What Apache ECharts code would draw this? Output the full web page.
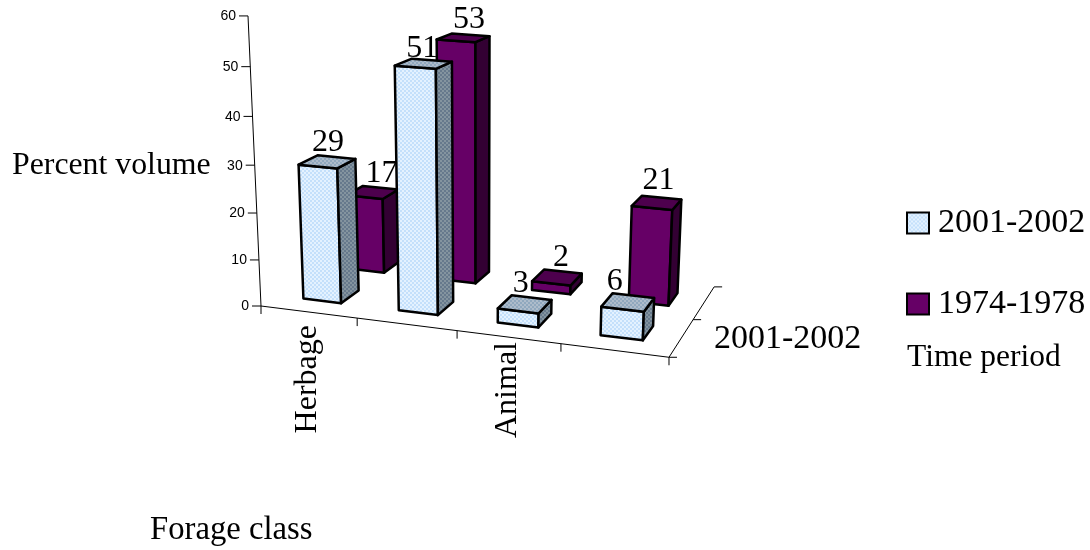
<!DOCTYPE html>
<html><head><meta charset="utf-8">
<style>html,body{margin:0;padding:0;background:#fff}#c{width:1090px;height:550px}</style>
<script src="https://cdn.jsdelivr.net/npm/echarts@6/dist/echarts.min.js"></script>
</head><body><div id="c"></div>
<script>
const categories = ['Herbage', '', 'Animal', ''];
const timePeriods = ['2001-2002', '1974-1978'];
const values2001 = [29, 51, 3, 6];
const values1974 = [17, 53, 2, 21];
const valueTicks = [0, 10, 20, 30, 40, 50, 60];

const SERIF = '"Liberation Serif","Times New Roman",serif';
const SANS = '"Liberation Sans",Arial,sans-serif';

function checker(c1, c2) {
  const cv = document.createElement('canvas');
  cv.width = 4; cv.height = 4;
  const g = cv.getContext('2d');
  g.fillStyle = c1; g.fillRect(0, 0, 4, 4);
  g.fillStyle = c2; g.fillRect(0, 0, 2, 2); g.fillRect(2, 2, 2, 2);
  return { image: cv, repeat: 'repeat' };
}
const faces = [
  { front: checker('#c4e0fb', '#e4f2ff'), side: checker('#66798c', '#84949f'), top: checker('#90a8be', '#aebccb') },
  { front: '#660066', side: '#330033', top: '#4d004d' }
];

// perspective model: vanishing points of the three box directions
const O = [261, 306], VX = [-4800, -330], VD = [1020, -190], VV = [478, 5150];
const KX = -0.0746, KD = 0.157, KV = -0.0565;
const DEPTH_MAX = 0.87;
const ROWS = [[0.14, 0.31], [0.565, 0.735]];
const ROW_SHIFT = [0.28, 0.29];

function project(params, api, x, value, d) {
  const p = api.coord([x, value]);
  const cs = params.coordSys;
  const u = (p[0] - cs.x) / cs.width, v = (cs.y + cs.height - p[1]) / cs.height;
  const w = 1 + KX * u + KD * d + KV * v;
  return [
    (O[0] + KX * VX[0] * u + KD * VD[0] * d + KV * VV[0] * v) / w,
    (O[1] + KX * VX[1] * u + KD * VD[1] * d + KV * VV[1] * v) / w
  ];
}
function poly(points, fill) {
  return { type: 'polygon', shape: { points }, style: { fill, stroke: '#000', lineWidth: 2.5, lineJoin: 'round' } };
}
function line(a, b) {
  return { type: 'line', shape: { x1: a[0], y1: a[1], x2: b[0], y2: b[1] }, style: { stroke: '#000', lineWidth: 1 } };
}
function text(str, x, y, font, align, extra) {
  return Object.assign({ type: 'text', x, y, style: { text: str, font, fill: '#000', align, verticalAlign: 'middle' } }, extra || {});
}

const labelNudge = [
  [[1, 2], [-1, 6], [-4, 0], [-13, 0]],
  [[9, 2], [6, 3], [4, 1], [2, -1]]
];

function barRenderer(row) {
  return function (params, api) {
    const cat = api.value(0), val = api.value(1);
    const x0 = cat + ROW_SHIFT[row], x1 = x0 + 0.4, d0 = ROWS[row][0], d1 = ROWS[row][1];
    const P = (x, v, d) => project(params, api, x, v, d);
    const f = faces[row];
    const children = [
      poly([P(x0, val, d0), P(x1, val, d0), P(x1, 0, d0), P(x0, 0, d0)], f.front),
      poly([P(x1, val, d0), P(x1, val, d1), P(x1, 0, d1), P(x1, 0, d0)], f.side),
      poly([P(x0, val, d0), P(x0, val, d1), P(x1, val, d1), P(x1, val, d0)], f.top)
    ];
    const a = P(x0, val, d0), b = P(x1, val, d1);
    const n = labelNudge[row][cat];
    children.push(text(String(val), (a[0] + b[0]) / 2 + n[0], (a[1] + b[1]) / 2 - 21 + n[1], '32px ' + SERIF, 'center'));
    return { type: 'group', children };
  };
}

function axesRenderer(params, api) {
  const P = (x, v, d) => project(params, api, x, v, d);
  const ch = [];
  ch.push(line(P(0, 0, 0), P(0, 60, 0)));
  valueTicks.forEach(t => {
    const p = P(0, t, 0);
    ch.push(line([p[0] - 9, p[1]], p));
    ch.push(text(String(t), p[0] - 12, p[1] + 0.5, '14px ' + SANS, 'right'));
  });
  ch.push(line(P(0, 0, 0), P(4, 0, 0)));
  categories.concat(['']).forEach((c, i) => {
    const p = P(i, 0, 0);
    ch.push(line(p, [p[0], p[1] + 8]));
  });
  const labelTops = [325, 0, 342, 0];
  categories.forEach((c, i) => {
    if (!c) return;
    const p = P(i + 0.5, 0, 0);
    ch.push(text(c, p[0] - 1, labelTops[i], '32px ' + SERIF, 'right', { rotation: Math.PI / 2 }));
  });
  ch.push(line(P(4, 0, 0), P(4, 0, DEPTH_MAX)));
  [0, 0.5, 1].forEach(k => {
    const p = P(4, 0, DEPTH_MAX * k);
    ch.push(line(p, [p[0] + 8, p[1]]));
  });
  ch.push(text(timePeriods[0], 714, 339, '34px ' + SERIF, 'left'));
  ch.push(text('Percent volume', 12, 166, '31.8px ' + SERIF, 'left'));
  ch.push(text('Forage class', 150, 530, '32.7px ' + SERIF, 'left'));
  ch.push(text('Time period', 907, 358, '31.5px ' + SERIF, 'left'));
  return { type: 'group', children: ch };
}

const chart = echarts.init(document.getElementById('c'), null, { renderer: 'canvas' });
chart.setOption({
  animation: false,
  backgroundColor: '#fff',
  grid: { left: 261, top: 16, width: 408, height: 290, containLabel: false },
  xAxis: { type: 'value', min: 0, max: 4, interval: 1, show: false },
  yAxis: { type: 'value', min: 0, max: 60, interval: 10, show: false },
  legend: {
    left: 901, top: 198, orient: 'vertical', itemWidth: 22, itemHeight: 21, itemGap: 41,
    selectedMode: false,
    textStyle: { fontFamily: SERIF, fontSize: 34, color: '#000', lineHeight: 40, padding: [0, 0, 0, 4] },
    data: [
      { name: timePeriods[0], icon: 'rect', itemStyle: { color: faces[0].front, borderColor: '#000', borderWidth: 2 } },
      { name: timePeriods[1], icon: 'rect', itemStyle: { color: faces[1].front, borderColor: '#000', borderWidth: 2 } }
    ]
  },
  series: [
    { type: 'custom', name: 'axes', coordinateSystem: 'cartesian2d', silent: true, clip: false,
      data: [[0, 0]], encode: { x: 0, y: 1 }, renderItem: axesRenderer },
    { type: 'custom', name: timePeriods[1], coordinateSystem: 'cartesian2d', silent: true, clip: false,
      itemStyle: { color: faces[1].front },
      data: values1974.map((v, i) => [i, v]), encode: { x: 0, y: 1 }, renderItem: barRenderer(1) },
    { type: 'custom', name: timePeriods[0], coordinateSystem: 'cartesian2d', silent: true, clip: false,
      itemStyle: { color: '#d4eaff' },
      data: values2001.map((v, i) => [i, v]), encode: { x: 0, y: 1 }, renderItem: barRenderer(0) }
  ]
});
</script></body></html>
